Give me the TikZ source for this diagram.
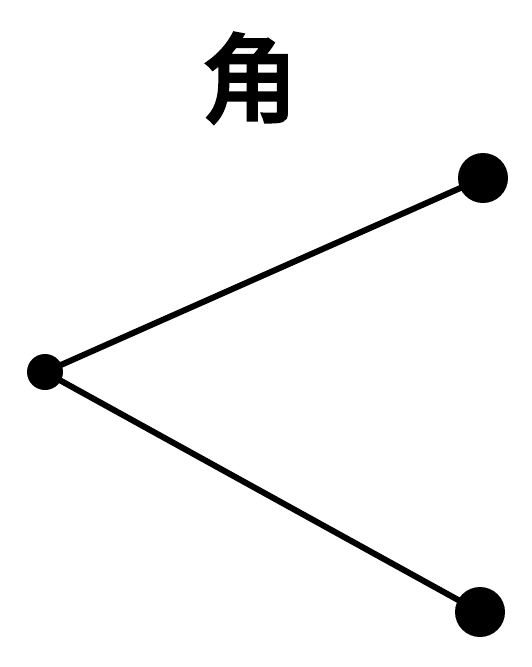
\documentclass[tikz,border=0pt]{standalone}
\usepackage{fontspec}
\newfontfamily\cjk[AutoFakeBold=4]{Noto Sans CJK SC}
\begin{document}
\begin{tikzpicture}[x=1pt,y=-1pt,
  dotn/.style={circle,fill=black,inner sep=0pt,minimum size=#1},
  ray/.style={line width=6pt,line cap=round}]
\useasboundingbox (0,0) rectangle (531,667);
\node[font=\cjk\bfseries\fontsize{96}{96}\selectfont,inner sep=0pt] (t) at (250,78) {角};
\node[dotn=36pt] (v) at (45,372) {};
\node[dotn=50pt] (a) at (483,178) {};
\node[dotn=50pt] (b) at (480,612) {};
\draw[ray] (v.center) -- (a.center);
\draw[ray] (v.center) -- (b.center);
\end{tikzpicture}
\end{document}
